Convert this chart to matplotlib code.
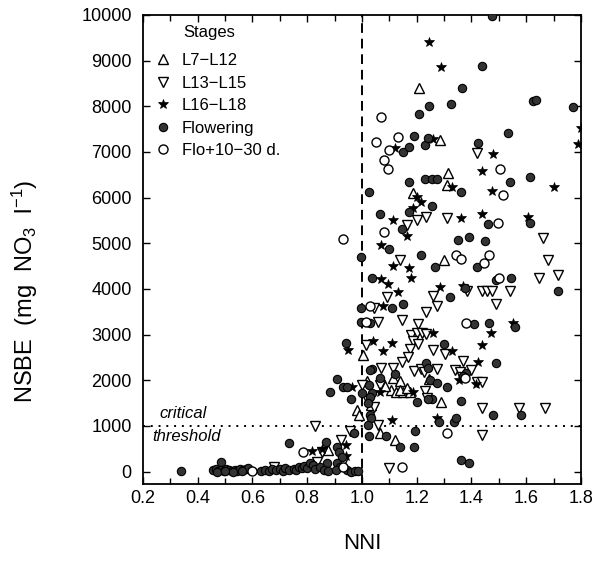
import numpy as np
import matplotlib
matplotlib.use("Agg")
import matplotlib.pyplot as plt
from matplotlib.ticker import MultipleLocator

plt.rcParams['font.family'] = ['Liberation Sans', 'DejaVu Sans']
plt.rcParams['mathtext.default'] = 'regular'

# --- datos (NNI, NSBE) ---
stages = ["L7\u2212L12", "L13\u2212L15", "L16\u2212L18", "Flowering", "Flo+10\u221230 d."]

l7_nni = [1.21, 1.285, 1.315, 1.31, 1.185, 1.30, 1.005, 1.02, 1.113, 1.14, 1.105,
          1.125, 1.15, 1.175, 1.085, 1.14, 1.165, 0.98, 0.99, 1.033, 1.065, 1.12,
          1.29, 1.245, 0.875]
l7_nsbe = [8400, 7260, 6550, 6280, 6100, 4640, 2560, 1980, 2060, 1990, 1790,
           1740, 1750, 1740, 1880, 1790, 1840, 1360, 1250, 1470, 850, 700,
           1530, 2020, 480]

l13_nni = [1.42, 1.20, 1.235, 1.31, 1.66, 1.165, 1.14, 1.68, 1.645, 1.715, 1.09,
           1.26, 1.385, 1.44, 1.455, 1.475, 1.54, 1.49, 1.275, 1.045, 1.235, 1.06,
           1.145, 1.205, 1.18, 1.20, 1.22, 1.235, 1.185, 1.205, 1.175, 1.015, 1.26,
           1.305, 1.145, 1.168, 1.07, 1.113, 1.19, 1.215, 1.228, 1.275, 1.37, 1.34,
           1.358, 1.40, 1.365, 1.42, 1.44, 1.23, 1.237, 1.00, 1.065, 1.018, 1.044,
           1.06, 1.10, 0.83, 0.955, 0.855, 0.925, 0.93, 0.835, 0.68, 1.44, 1.44,
           1.575, 1.67]
l13_nsbe = [6980, 5510, 5580, 5560, 5120, 5400, 4640, 4640, 4250, 4310, 3830,
            3850, 3960, 3960, 3960, 3960, 3960, 3680, 3630, 3590, 3500, 3280,
            3330, 3240, 2990, 3040, 3040, 3020, 2870, 2800, 2690, 2780, 2670,
            2580, 2410, 2520, 2280, 2280, 2210, 2250, 2190, 2250, 2430, 2230,
            2190, 2230, 2080, 1970, 1970, 1770, 1620, 1900, 1900, 1580, 1420,
            1030, 90, 990, 880, 440, 700, 220, 220, 110, 1400, 810,
            1400, 1400]

l16_nni = [1.245, 1.29, 1.12, 1.26, 1.80, 1.79, 1.48, 1.44, 1.70, 1.475, 1.33,
           1.20, 1.215, 1.115, 1.185, 1.36, 1.44, 1.605, 1.165, 1.07, 1.115, 1.17,
           1.18, 1.07, 1.095, 1.285, 1.37, 1.13, 1.075, 1.55, 1.47, 1.26, 0.95,
           1.04, 1.11, 1.075, 1.44, 1.33, 1.425, 1.355, 0.965, 1.415, 1.065, 1.186,
           1.11, 1.275, 0.817, 0.854, 0.94, 0.94]
l16_nsbe = [9410, 8860, 7090, 7290, 7530, 7180, 6960, 6590, 6240, 6150, 6240,
            6020, 5910, 5510, 5780, 5560, 5650, 5580, 5160, 4970, 4510, 4460,
            4250, 4220, 4110, 4050, 4060, 3940, 3630, 3260, 3040, 3040, 2670,
            2870, 2820, 2650, 2780, 2650, 2410, 2010, 1860, 1910, 1750, 1750,
            1140, 1170, 460, 500, 590, 350]

flo_nni = [1.475, 1.44, 1.365, 1.245, 1.325, 1.21, 1.15, 1.17, 1.19, 1.23, 1.24,
           1.625, 1.635, 1.77, 1.425, 1.535, 1.54, 1.615, 1.36, 1.23, 1.255, 1.275,
           1.17, 1.025, 1.255, 1.065, 1.17, 1.46, 1.615, 1.145, 1.35, 1.39, 1.45,
           1.10, 0.995, 1.215, 1.265, 1.42, 1.035, 1.49, 1.545, 1.715, 1.32, 1.375,
           0.995, 1.11, 1.15, 0.995, 1.03, 1.41, 1.465, 1.56, 0.94, 1.30, 1.035,
           1.235, 1.24, 1.49, 1.38, 1.37, 0.91, 0.93, 0.945, 1.065, 1.25, 1.275,
           1.31, 0.883, 0.96, 1.03, 1.12, 1.0, 1.025, 1.037, 1.029, 1.022, 1.029,
           1.033, 1.022, 1.026, 1.088, 1.14, 1.195, 1.19, 1.36, 1.39, 1.20, 1.36,
           1.255, 1.24, 1.28, 1.335, 1.345, 1.48, 1.58, 0.97, 0.735, 0.87, 0.91,
           0.915, 0.927, 0.909, 0.92, 0.872, 0.34, 0.485,
           # nube baja
           0.455, 0.465, 0.475, 0.485, 0.495, 0.505, 0.515, 0.525, 0.535, 0.545,
           0.555, 0.565, 0.575, 0.585, 0.47, 0.50, 0.53, 0.56,
           0.63, 0.645, 0.66, 0.67, 0.685, 0.70, 0.71, 0.72, 0.735, 0.75, 0.76,
           0.77, 0.78, 0.79, 0.80, 0.81, 0.82, 0.83, 0.845, 0.86, 0.875,
           0.905, 0.945, 0.96, 0.975, 0.985]
flo_nsbe = [9980, 8890, 8400, 8010, 8050, 7830, 7000, 7110, 7350, 7150, 7310,
            8120, 8130, 7980, 7200, 7410, 6340, 6460, 6120, 6400, 6410, 6400,
            6350, 6120, 5820, 5650, 5690, 5430, 5450, 5320, 5080, 5140, 5050,
            4880, 4700, 4750, 4490, 4490, 4250, 4200, 4250, 3960, 3830, 4030,
            3590, 3590, 3680, 3280, 3260, 3240, 3260, 3170, 2820, 2800, 2250,
            2390, 2280, 2390, 2170, 2100, 2030, 1860, 1860, 2060, 2010, 1950,
            1860, 1750, 1580, 2230, 2140, 1730, 1900, 1730, 1640, 1510, 1250,
            1180, 1030, 790, 770, 550, 880, 530, 260, 200, 1530, 1550,
            1580, 1580, 1090, 1090, 1180, 1250, 1250, 850, 630, 660, 550,
            440, 330, 200, 110, 200, 20, 220,
            30, 50, 10, 40, 20, 60, 30, 10, 40, 20,
            50, 30, 60, 80, 0, 20, 0, 10,
            20, 40, 10, 60, 30, 50, 20, 80, 40, 60, 30,
            110, 70, 130, 90, 200, 150, 60, 110, 40, 20,
            30, 40, 0, 10, 20]

post_nni = [1.07, 1.05, 1.13, 1.10, 1.08, 1.095, 1.505, 1.515, 1.497, 1.08, 1.345,
            1.36, 1.445, 1.465, 1.50, 0.93, 1.03, 1.015, 1.38, 1.375, 1.31, 1.145,
            0.785, 0.60, 0.93]
post_nsbe = [7770, 7210, 7330, 7050, 6830, 6630, 6630, 6050, 5450, 5250, 4750,
             4660, 4570, 4750, 4250, 5100, 3630, 3280, 3260, 2060, 850, 110,
             440, 20, 110]

umbral_nni = 1.0
umbral_nsbe = 1000

fig = plt.figure(figsize=(6.02, 5.61), dpi=100)
ax = fig.add_axes([0.2375, 0.1373, 0.7276, 0.8360])

# lineas de referencia
ax.axvline(umbral_nni, color='black', linestyle=(0, (5, 3)), linewidth=1.4, zorder=1)
ax.axhline(umbral_nsbe, color='black', linestyle=(0, (1, 3)), linewidth=1.4, zorder=1)

ax.plot(l7_nni, l7_nsbe, linestyle='none', marker='^', markersize=7,
        markerfacecolor='white', markeredgecolor='black', markeredgewidth=1.0,
        label=stages[0], zorder=3)
ax.plot(l13_nni, l13_nsbe, linestyle='none', marker='v', markersize=7,
        markerfacecolor='white', markeredgecolor='black', markeredgewidth=1.0,
        label=stages[1], zorder=3)
ax.plot(l16_nni, l16_nsbe, linestyle='none', marker='*', markersize=7.5,
        markerfacecolor='black', markeredgecolor='black', markeredgewidth=0.5,
        label=stages[2], zorder=3)
ax.plot(flo_nni, flo_nsbe, linestyle='none', marker='o', markersize=6,
        markerfacecolor='#333333', markeredgecolor='black', markeredgewidth=0.8,
        label=stages[3], zorder=3)
ax.plot(post_nni, post_nsbe, linestyle='none', marker='o', markersize=6.5,
        markerfacecolor='white', markeredgecolor='black', markeredgewidth=1.0,
        label=stages[4], zorder=3)

ax.set_xlim(0.2, 1.8)
ax.set_ylim(-270, 10000)
ax.xaxis.set_major_locator(MultipleLocator(0.2))
ax.xaxis.set_minor_locator(MultipleLocator(0.1))
ax.yaxis.set_major_locator(MultipleLocator(1000))
ax.xaxis.set_major_formatter(plt.FuncFormatter(lambda v, p: "%.1f" % v))

ax.tick_params(which='both', direction='in', top=True, right=True, width=1.0)
ax.tick_params(which='major', length=5, labelsize=13)
ax.tick_params(which='minor', length=4)
ax.tick_params(axis='x', pad=4)
ax.tick_params(axis='y', pad=8)
for s in ax.spines.values():
    s.set_linewidth(1.3)

ax.set_xlabel("NNI", fontsize=16)
ax.set_ylabel("NSBE  (mg  NO$_3$  l$^{-1}$)", fontsize=17)
ax.xaxis.set_label_coords(0.5, -0.105)
ax.yaxis.set_label_coords(-0.235, 0.41)

ax.text(0.262, 1270, "critical", fontsize=12, style='italic', ha='left', va='center')
ax.text(0.233, 760, "threshold", fontsize=12, style='italic', ha='left', va='center')

# leyenda
ax.text(0.092, 0.962, "Stages", transform=ax.transAxes, fontsize=12, ha='left', va='center')
ax.legend(loc='upper left', bbox_to_anchor=(0.005, 0.94), frameon=False, fontsize=12,
          handlelength=1.0, handletextpad=0.6, labelspacing=0.45, borderaxespad=0.2,
          numpoints=1)

plt.savefig("out.png", dpi=100)
